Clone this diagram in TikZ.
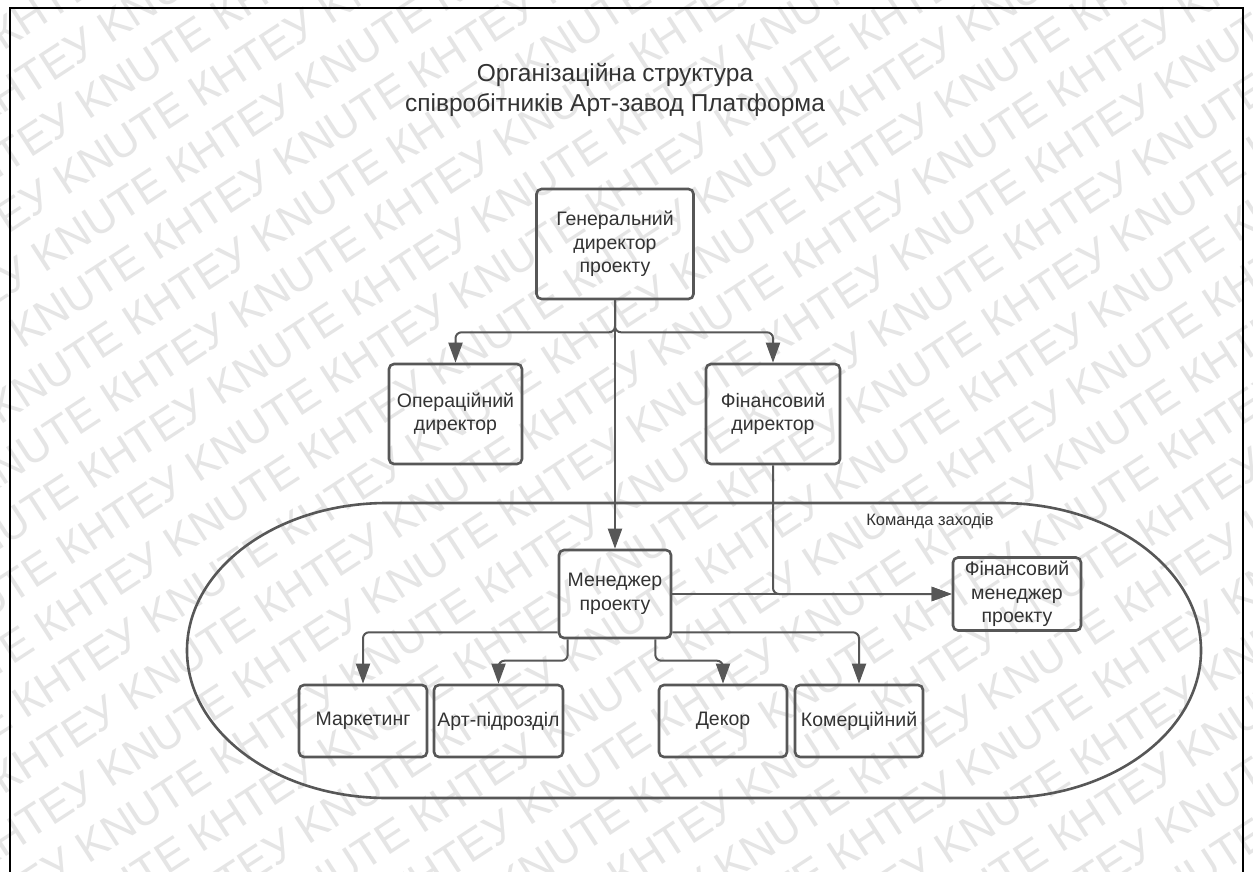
\documentclass[tikz,border=0pt]{standalone}
\usepackage{fontspec}
\setmainfont{Liberation Sans}
\usetikzlibrary{arrows.meta,calc}
\definecolor{linec}{HTML}{575757}
\definecolor{txtc}{HTML}{333333}
\definecolor{wmc}{HTML}{E5E5E5}
\newcommand\wmline{KNUTE КНТЕУ KNUTE КНТЕУ KNUTE КНТЕУ KNUTE КНТЕУ KNUTE КНТЕУ KNUTE КНТЕУ KNUTE КНТЕУ KNUTE КНТЕУ KNUTE КНТЕУ KNUTE КНТЕУ}
\begin{document}
\begin{tikzpicture}[x=1pt,y=-1pt,
  box/.style={draw=linec,line width=2.6pt,rounded corners=5pt,align=center,text=txtc,
    font=\fontsize{19.5}{23.5}\selectfont,inner sep=0pt},
  conn/.style={draw=linec,line width=2pt,rounded corners=6pt,-{Triangle[length=20pt,width=14pt]}},
  wm/.style={text=wmc,font=\fontsize{44}{50}\selectfont,inner sep=0pt,rotate=33},
  ttl/.style={text=txtc,font=\fontsize{24.5}{30}\selectfont,inner sep=0pt,anchor=base}]
\useasboundingbox (0,0) rectangle (1253,872);
\fill[white] (0,0) rectangle (1253,872);
% watermark
\begin{scope}
\clip (0,0) rectangle (1253,872);
\foreach \i in {-15,...,15}{
  \node[wm] (wm\i) at ({626-0.545*52*\i+0.839*60*\i},{436-0.839*52*\i-0.545*60*\i}) {\wmline};
}
\end{scope}
% frame
\draw[black,line width=2pt] (10,872) -- (10,8) -- (1243,8) -- (1243,872);
% title
\node[ttl] (t1) at (615,82) {Організаційна структура};
\node[ttl] (t2) at (615,112) {співробітників Арт-завод Платформа};
% team container
\draw[linec,line width=2.6pt] (387,503) -- (1001,503)
  .. controls (1111.5,503) and (1201,569) .. (1201,650.5)
  .. controls (1201,732) and (1111.5,798) .. (1001,798)
  -- (387,798)
  .. controls (276.5,798) and (187,732) .. (187,650.5)
  .. controls (187,569) and (276.5,503) .. cycle;
\node[text=txtc,font=\fontsize{16.5}{20}\selectfont,inner sep=0pt] (team) at (930,521) {Команда заходів};
% boxes
\node[box,minimum width=157pt,minimum height=110pt] (gen) at (615,244) {Генеральний\\директор\\проекту};
\node[box,minimum width=133pt,minimum height=100pt] (ops) at (455.5,414) {Операційний\\директор};
\node[box,minimum width=134pt,minimum height=100pt] (fin) at (773,414) {Фінансовий\\директор};
\node[box,minimum width=112pt,minimum height=88pt] (mgr) at (615,594) {Менеджер\\проекту};
\node[box,minimum width=128pt,minimum height=73pt] (finmgr) at (1017,594) {Фінансовий\\менеджер\\проекту};
\node[box,minimum width=128pt,minimum height=72pt] (mark) at (363,721) {Маркетинг};
\node[box,minimum width=129pt,minimum height=72pt] (art) at (498.5,721) {Арт-підрозділ};
\node[box,minimum width=128pt,minimum height=72pt] (dec) at (723,721) {Декор};
\node[box,minimum width=128pt,minimum height=72pt] (com) at (859,721) {Комерційний};
% connectors
\draw[conn] (gen.south) -- ++(0,32) -| (ops.north);
\draw[conn] (gen.south) -- ++(0,32) -| (fin.north);
\draw[conn] (gen.south) -- (mgr.north);
\draw[conn] (fin.south) |- (finmgr.west);
\draw[conn] (mgr.east) -- (finmgr.west);
\draw[conn] ($(mgr.south west)+(0,-7)$) -| (mark.north);
\draw[conn] ($(mgr.south west)+(10,0)$) |- ($(art.north)+(0,-23)$) -- (art.north);
\draw[conn] ($(mgr.south east)+(-17,0)$) |- ($(dec.north)+(0,-23)$) -- (dec.north);
\draw[conn] ($(mgr.south east)+(0,-7)$) -| (com.north);
\end{tikzpicture}
\end{document}
